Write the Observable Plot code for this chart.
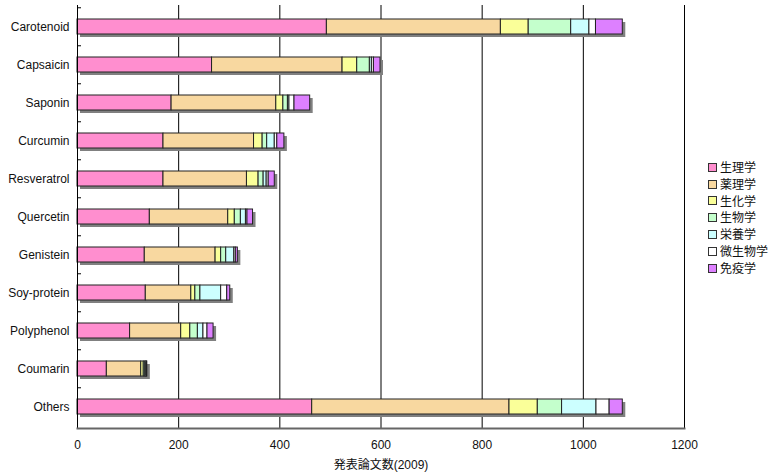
<!DOCTYPE html>
<html>
<head>
<meta charset="utf-8">
<script src="https://cdn.jsdelivr.net/npm/d3@7"></script>
<script src="https://cdn.jsdelivr.net/npm/@observablehq/plot@0.6"></script>
<style>
  html, body { margin: 0; padding: 0; background: #fff; }
  #wrap { position: relative; width: 780px; height: 475px; font-family: "Liberation Sans", Arial, "Noto Sans CJK JP", sans-serif; }
  #legend { position: absolute; left: 708px; top: 159px; font-size: 12px; color: #111; line-height: 16.8px; font-family: "Noto Sans CJK JP", sans-serif; }
  #legend .item { display: flex; align-items: center; height: 16.8px; white-space: nowrap; }
  #legend .sw { width: 7px; height: 7px; border: 1px solid #333; margin-right: 3px; }
</style>
</head>
<body>
<div id="wrap"><div id="legend"></div></div>
<script>
const categories = ["Carotenoid","Capsaicin","Saponin","Curcumin","Resveratrol","Quercetin","Genistein","Soy-protein","Polyphenol","Coumarin","Others"];
const subjects = ["生理学","薬理学","生化学","生物学","栄養学","微生物学","免疫学"];
const colors = ["#ff8ecf","#f8d8a0","#faff99","#c4ffcc","#ccffff","#ffffff","#dd80ff"];
// values per subject, in category order
const physiology   = [493, 266, 186, 170, 170, 143, 133, 135, 104, 58, 464];
const pharmacology = [344, 258, 207, 179, 165, 155, 140,  90, 101, 68, 390];
const biochemistry = [ 55,  29,  14,  17,  23,  13,  11,   8,  18,  5,  56];
const biology      = [ 84,  25,   9,   9,  10,  12,  10,  10,  15,  3,  48];
const nutrition    = [ 36,   4,   3,  15,   6,  10,  16,  41,  11,  2,  68];
const microbiology = [ 13,   4,  10,   5,   4,   3,   3,  12,   8,  1,  26];
const immunology   = [ 53,  13,  31,  14,  12,  11,   4,   6,  12,  1,  26];
const xTicks = [0, 200, 400, 600, 800, 1000, 1200];
const xLabel = "発表論文数(2009)";

const series = [physiology, pharmacology, biochemistry, biology, nutrition, microbiology, immunology];
const rows = [];
categories.forEach((c, i) => {
  subjects.forEach((s, j) => rows.push({category: c, subject: s, value: series[j][i]}));
});
const totals = categories.map((c, i) => ({category: c, total: d3.sum(series, s => s[i])}));

const height = 475, marginTop = 5, marginBottom = 47;
const bw = (height - marginTop - marginBottom) / categories.length;

const chart = Plot.plot({
  width: 780,
  height,
  marginLeft: 77,
  marginRight: 96,
  marginTop,
  marginBottom,
  style: {fontFamily: '"Liberation Sans", Arial, "Noto Sans CJK JP", sans-serif', fontSize: "12px", color: "#111", background: "#fff"},
  x: {domain: [0, 1200], ticks: xTicks},
  y: {domain: categories, paddingInner: 0.6, paddingOuter: 0.3, label: null},
  color: {domain: subjects, range: colors},
  marks: [
    Plot.ruleX(xTicks.filter(d => d > 0), {stroke: "#000", strokeWidth: 1}),
    Plot.barX(totals, {x: "total", y: "category", fill: "#808080", dx: 3, dy: 3}),
    Plot.barX(rows, {x: "value", y: "category", fill: "subject", stroke: "#222", strokeWidth: 1, order: subjects}),
    Plot.ruleX([0], {stroke: "#000", strokeWidth: 1}),
    Plot.frame({anchor: "bottom", stroke: "#666", strokeWidth: 2}),
    Plot.axisY({tickSize: 4, dx: 4, dy: -bw / 2, tickFormat: () => "", stroke: "#000", label: null}),
    Plot.axisY({tickSize: 0, tickPadding: 8, fontSize: 12, fill: "#111", label: null}),
    Plot.axisX({ticks: xTicks, tickSize: 0, tickPadding: 12, fontSize: 12, fill: "#111", tickFormat: d3.format("d"),
      label: xLabel, labelAnchor: "center", labelArrow: "none", labelOffset: 40})
  ]
});
document.getElementById("wrap").prepend(chart);

const legend = d3.select("#legend");
subjects.forEach((s, i) => {
  const it = legend.append("div").attr("class", "item");
  it.append("div").attr("class", "sw").style("background", colors[i]);
  it.append("span").text(s);
});
</script>
</body>
</html>
